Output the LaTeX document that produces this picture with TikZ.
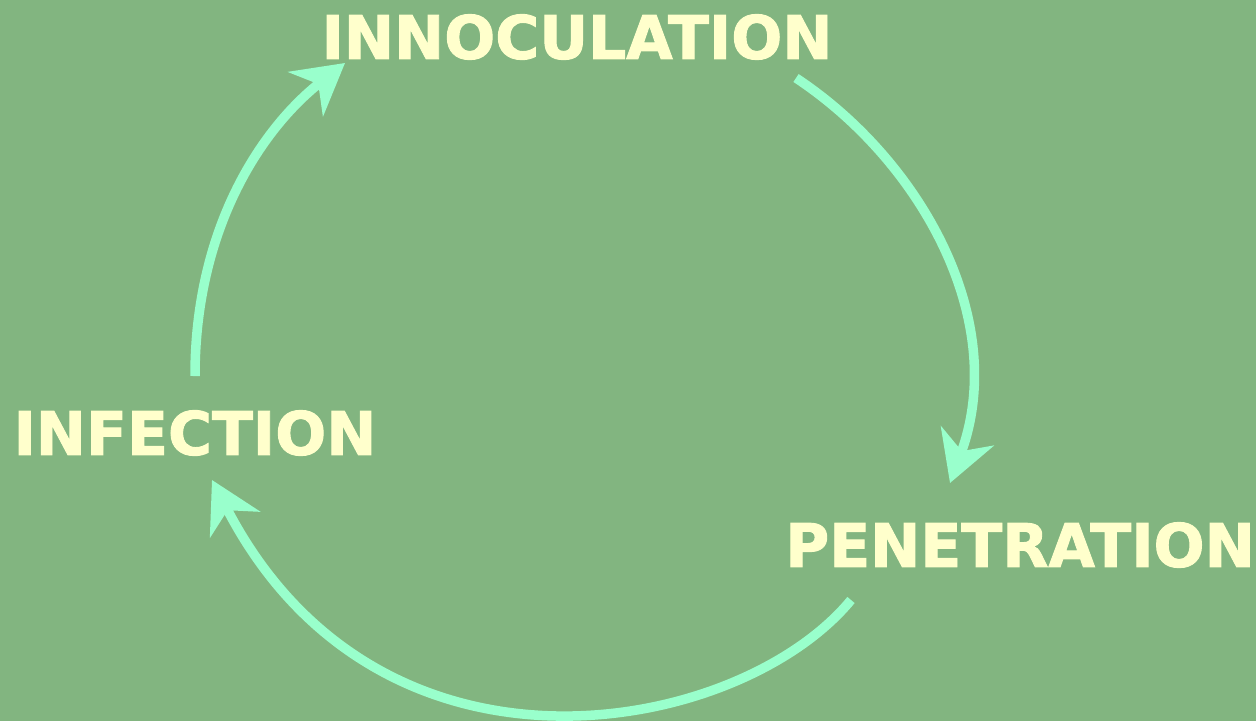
\documentclass[tikz,border=0pt]{standalone}
\usepackage{fontspec}
\setmainfont{DejaVu Sans}
\newfontfamily\stagefont[FakeBold=1.6]{DejaVu Sans Bold}
\usepackage{tikz}
\usetikzlibrary{arrows.meta}
\definecolor{bggreen}{RGB}{130,181,128}
\definecolor{labelyellow}{RGB}{255,255,204}
\definecolor{arrowmint}{RGB}{153,255,204}
\tikzset{
  stage/.style={text=labelyellow, font=\stagefont\fontsize{60}{61}\selectfont, inner sep=0pt},
  cyclearrow/.style={arrowmint, line width=9.5pt,
    -{Stealth[length=50pt,width=56pt,inset=16pt]}}
}
\begin{document}
\begin{tikzpicture}[x=1pt,y=-1pt]
        \fill[bggreen] (0,0) rectangle (1256,721);
        \useasboundingbox (0,0) rectangle (1256,721);
        \node[stage] (innoc) at (577,37) {INNOCULATION};
        \node[stage] (infec) at (195,433) {INFECTION};
        \node[stage] (penet) at (1020,545) {PENETRATION};
        \coordinate (a1) at (195,376);
        \coordinate (b1) at (345,63);
        \coordinate (a2) at (796,78);
        \coordinate (b2) at (950,483);
        \coordinate (a3) at (851,600);
        \coordinate (b3) at (212,480);
        \draw[cyclearrow] (a1) .. controls (195,230) and (260,130) .. (b1);
        \draw[cyclearrow] (a2) .. controls (920,160) and (1010,320) .. (b2);
        \draw[cyclearrow] (a3) .. controls (740,735) and (380,805) .. (b3);
    \end{tikzpicture}
\end{document}
